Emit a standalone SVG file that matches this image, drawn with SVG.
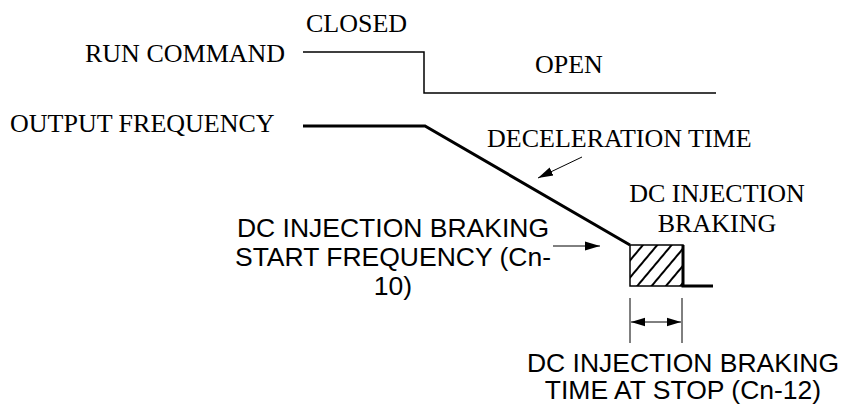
<svg xmlns="http://www.w3.org/2000/svg" width="845" height="407" viewBox="0 0 845 407">
<style>
.serif{font-family:"Liberation Serif","Times New Roman",serif;font-size:26px;fill:#000}
.sans{font-family:"Liberation Sans",Arial,sans-serif;font-size:26.5px;fill:#000}
.thin{fill:none;stroke:#000;stroke-width:1.5}
.thick{fill:none;stroke:#000;stroke-width:3}
.arr{fill:none;stroke:#000;stroke-width:1}
</style>
<defs>
<marker id="ah" viewBox="0 0 10 10" refX="10" refY="5" markerWidth="15" markerHeight="15" markerUnits="userSpaceOnUse" orient="auto">
<path d="M0,2 L10,5 L0,8 Z" fill="#000"/>
</marker>
<marker id="ah2" viewBox="0 0 10 10" refX="10" refY="5" markerWidth="14" markerHeight="14" markerUnits="userSpaceOnUse" orient="auto-start-reverse">
<path d="M0,2 L10,5 L0,8 Z" fill="#000"/>
</marker>
<pattern id="hatch" patternUnits="userSpaceOnUse" width="11" height="11" patternTransform="rotate(40)">
<line x1="0" y1="0" x2="0" y2="11" stroke="#000" stroke-width="4"/>
</pattern>
</defs>
<g id="run-command">
<text class="serif" x="85" y="62">RUN COMMAND</text>
<text class="serif" x="306" y="32">CLOSED</text>
<text class="serif" x="535" y="73">OPEN</text>
<path class="thin" d="M303,52 H424 V93 H716"/>
</g>
<g id="output-frequency">
<text class="serif" x="10" y="132">OUTPUT FREQUENCY</text>
<path class="thick" d="M303,126 H425 L630,245"/>
</g>
<g id="deceleration-time">
<text class="serif" x="487" y="147">DECELERATION TIME</text>
</g>
<g id="dc-braking">
<text class="serif" x="717" y="202" text-anchor="middle">DC INJECTION</text>
<text class="serif" x="717" y="232" text-anchor="middle">BRAKING</text>
<rect x="630" y="245" width="53" height="41" fill="url(#hatch)" stroke="#000" stroke-width="1.5"/>
<path class="thick" d="M683,245 V286 H713"/>
</g>
<g id="start-frequency">
<text class="sans" x="393" y="237" text-anchor="middle">DC INJECTION BRAKING</text>
<text class="sans" x="393" y="266" text-anchor="middle">START FREQUENCY (Cn-</text>
<text class="sans" x="393" y="295" text-anchor="middle">10)</text>
</g>
<g id="time-at-stop">
<text class="sans" x="683" y="372" text-anchor="middle">DC INJECTION BRAKING</text>
<text class="sans" x="683" y="399" text-anchor="middle">TIME AT STOP (Cn-12)</text>
<line class="arr" x1="630" y1="298" x2="630" y2="343"/>
<line class="arr" x1="682" y1="298" x2="682" y2="343"/>
</g>
<g id="connectors">
<line class="arr" x1="582" y1="157" x2="538" y2="178" marker-end="url(#ah)"/>
<line class="arr" x1="553" y1="246" x2="600" y2="246" marker-end="url(#ah)"/>
<line class="arr" x1="631" y1="322" x2="681" y2="322" marker-start="url(#ah2)" marker-end="url(#ah2)"/>
</g>
</svg>
